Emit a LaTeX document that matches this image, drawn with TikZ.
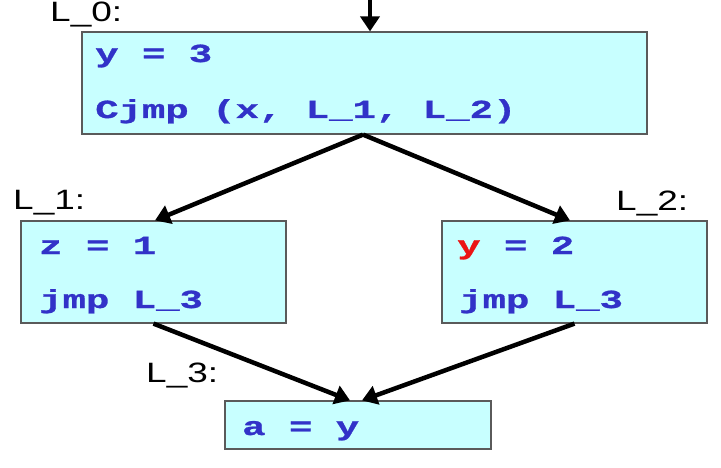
\documentclass[tikz,border=0pt]{standalone}
\usepackage{fontspec}
\usetikzlibrary{arrows.meta}
\newfontfamily\codefont[FakeStretch=1.5,FakeBold=1]{Liberation Mono Bold}
\newfontfamily\labelfont[FakeStretch=1.32]{Liberation Sans}
\definecolor{boxfill}{RGB}{200,255,255}
\definecolor{boxline}{RGB}{90,90,90}
\definecolor{codeblue}{RGB}{50,50,200}
\definecolor{codered}{RGB}{235,20,20}
\tikzset{
  block/.style={draw=boxline, line width=1.2pt, fill=boxfill, inner sep=0pt},
  code/.style={anchor=base west, inner sep=0pt, text=codeblue, font=\codefont\fontsize{26}{30}\selectfont},
  lbl/.style={anchor=base west, inner sep=0pt, text=black, font=\labelfont\fontsize{28}{32}\selectfont},
  flow/.style={line width=4.5pt, -{Triangle[length=15pt,width=19pt]}}
}
\begin{document}
\begin{tikzpicture}[x=1pt,y=1pt]
\useasboundingbox (0,0) rectangle (721,467);
\fill[white] (0,0) rectangle (721,467);
% blocks
\node[block, minimum width=565pt, minimum height=102pt] (b0) at (364.5,384) {};
\node[block, minimum width=265pt, minimum height=102pt] (b1) at (153.5,195) {};
\node[block, minimum width=265pt, minimum height=102pt] (b2) at (574.5,195) {};
\node[block, minimum width=266pt, minimum height=48pt] (b3) at (358,42) {};
% code
\node[code] (t0a) at (95,405) {y = 3};
\node[code] (t0b) at (95,349) {Cjmp (x, L\_1, L\_2)};
\node[code] (t1a) at (39,213) {z = 1};
\node[code] (t1b) at (39,159) {jmp L\_3};
\node[code] (t2a) at (457,213) {{\color{codered}y} = 2};
\node[code] (t2b) at (459,159) {jmp L\_3};
\node[code] (t3a) at (242,32) {a = y};
% labels
\node[lbl] (l0) at (50,445) {L\_0:};
\node[lbl] (l1) at (13,258) {L\_1:};
\node[lbl] (l2) at (616,257) {L\_2:};
\node[lbl] (l3) at (146,85) {L\_3:};
% arrows
\coordinate (entry) at (370,467);
\draw[flow] (entry) -- ([xshift=5.5pt]b0.north);
\draw[flow] ([xshift=-1.5pt]b0.south) -- ([xshift=1.5pt]b1.north);
\draw[flow] ([xshift=-1.5pt]b0.south) -- ([xshift=-4.5pt]b2.north);
\draw[flow] (b1.south) -- ([xshift=-8pt]b3.north);
\draw[flow] (b2.south) -- ([xshift=4pt]b3.north);
\end{tikzpicture}
\end{document}
